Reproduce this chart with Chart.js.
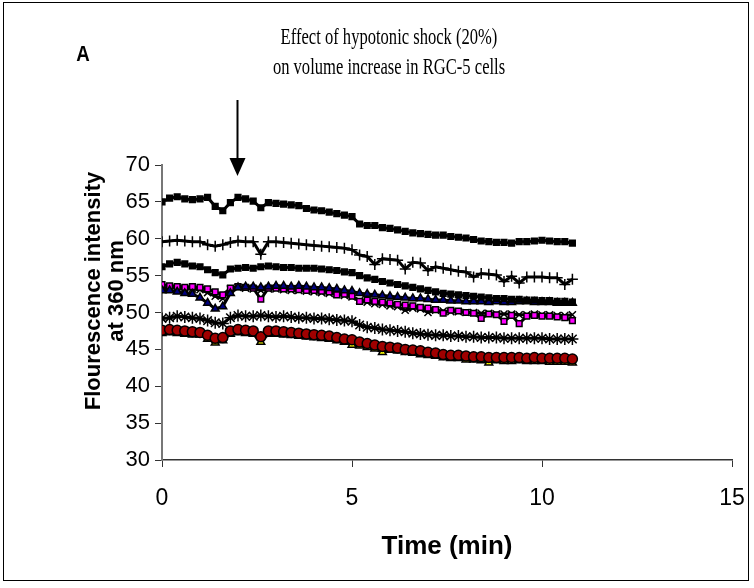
<!DOCTYPE html>
<html>
<head>
<meta charset="utf-8">
<script src="https://cdn.jsdelivr.net/npm/chart.js@4.4.1/dist/chart.umd.min.js"></script>
<style>
  html, body { margin: 0; padding: 0; background: #fff; }
  canvas { display: block; }
</style>
</head>
<body>
<canvas id="grafico" width="754" height="588"></canvas>
<script>
// tiempo en minutos
const tiempo = [0, 0.2, 0.4, 0.6, 0.8, 1, 1.2, 1.4, 1.6, 1.8,
  2, 2.2, 2.4, 2.6, 2.8, 3, 3.2, 3.4, 3.6, 3.8,
  4, 4.2, 4.4, 4.6, 4.8, 5, 5.2, 5.4, 5.6, 5.8,
  6, 6.2, 6.4, 6.6, 6.8, 7, 7.2, 7.4, 7.6, 7.8,
  8, 8.2, 8.4, 8.6, 8.8, 9, 9.2, 9.4, 9.6, 9.8,
  10, 10.2, 10.4, 10.6, 10.8];

const serie1 = [65.0, 65.5, 65.7, 65.4, 65.3, 65.4, 65.6, 64.4, 63.8, 64.9,
  65.6, 65.4, 65.1, 64.2, 64.9, 64.8, 64.7, 64.6, 64.5, 64.1,
  63.9, 63.8, 63.6, 63.4, 63.2, 63.0, 62.0, 61.8, 61.8, 61.5,
  61.4, 61.2, 61.0, 60.8, 60.7, 60.6, 60.5, 60.5, 60.3, 60.2,
  60.1, 59.9, 59.7, 59.6, 59.5, 59.5, 59.4, 59.6, 59.6, 59.7,
  59.8, 59.7, 59.6, 59.6, 59.4];
const serie2 = [59.6, 59.7, 59.8, 59.7, 59.6, 59.6, 59.2, 59.0, 59.2, 59.5,
  59.7, 59.6, 59.6, 57.9, 59.6, 59.6, 59.5, 59.4, 59.3, 59.2,
  59.1, 59.0, 58.9, 58.8, 58.7, 58.5, 57.8, 57.6, 56.5, 57.3,
  57.2, 57.1, 55.9, 56.8, 56.7, 55.7, 56.2, 56.0, 55.8, 55.6,
  55.5, 54.8, 55.3, 55.2, 55.1, 54.2, 54.9, 54.0, 54.8, 54.8,
  54.8, 54.7, 54.7, 53.8, 54.5];
const serie3 = [56.2, 56.6, 56.8, 56.6, 56.3, 56.2, 55.8, 55.4, 55.1, 55.9,
  56.0, 56.1, 56.0, 56.2, 56.3, 56.2, 56.1, 56.1, 56.0, 56.0,
  56.0, 55.9, 55.8, 55.7, 55.5, 55.4, 55.0, 54.7, 54.5, 54.2,
  54.0, 53.8, 53.6, 53.4, 53.2, 53.0, 52.8, 52.6, 52.5, 52.4,
  52.3, 52.2, 52.1, 52.0, 51.9, 51.9, 51.8, 51.8, 51.7, 51.7,
  51.6, 51.6, 51.5, 51.5, 51.4];
const serie4 = [53.0, 53.0, 52.8, 52.6, 52.5, 52.0, 51.3, 50.5, 50.8, 52.6,
  53.4, 53.5, 53.5, 53.4, 53.5, 53.6, 53.6, 53.5, 53.6, 53.5,
  53.4, 53.4, 53.3, 53.2, 53.0, 52.9, 52.6, 52.5, 52.4, 52.3,
  52.2, 52.1, 52.0, 51.9, 51.9, 51.8, 51.7, 51.7, 51.6, 51.6,
  51.5, 51.5, 51.5, 51.4, 51.5, 51.4, 51.4, 51.5, 51.5, 51.4,
  51.4, 51.4, 51.3, 51.3, 51.3];
const serie5 = [53.8, 53.6, 53.5, 53.4, 53.5, 53.4, 53.2, 52.8, 52.4, 53.3,
  53.5, 53.4, 53.3, 51.8, 53.3, 53.3, 53.2, 53.2, 53.1, 53.0,
  53.0, 52.9, 52.8, 52.4, 52.5, 52.2, 51.5, 51.7, 51.5, 51.4,
  51.3, 51.1, 51.0, 50.9, 50.7, 50.6, 50.4, 49.9, 50.3, 50.2,
  50.0, 49.9, 49.2, 49.8, 49.7, 48.8, 49.6, 48.5, 49.5, 49.6,
  49.5, 49.5, 49.4, 49.3, 48.9];
const serie6 = [53.3, 53.4, 53.3, 53.2, 53.2, 53.1, 52.7, 52.2, 51.9, 53.2,
  53.4, 53.3, 53.2, 53.0, 53.2, 53.2, 53.1, 53.0, 53.0, 52.9,
  52.8, 52.7, 52.6, 52.5, 52.3, 52.1, 51.6, 51.4, 51.2, 51.1,
  50.9, 50.8, 50.3, 50.6, 50.5, 50.0, 50.3, 50.2, 50.1, 50.1,
  50.0, 50.0, 49.9, 49.9, 49.8, 49.8, 49.8, 49.7, 49.7, 49.8,
  49.7, 49.7, 49.6, 49.6, 49.7];
const serie7 = [49.2, 49.3, 49.5, 49.4, 49.3, 49.2, 48.9, 48.6, 48.5, 49.3,
  49.6, 49.5, 49.5, 49.6, 49.5, 49.4, 49.5, 49.4, 49.3, 49.3,
  49.2, 49.2, 49.1, 49.0, 48.9, 48.8, 48.3, 48.0, 47.9, 47.7,
  47.6, 47.5, 47.4, 47.2, 47.1, 47.0, 46.9, 46.9, 46.8, 46.8,
  46.7, 46.7, 46.6, 46.6, 46.6, 46.5, 46.5, 46.5, 46.5, 46.5,
  46.5, 46.4, 46.4, 46.4, 46.4];
const serie8 = [47.6, 47.7, 47.6, 47.5, 47.4, 47.3, 46.9, 46.5, 46.6, 47.5,
  47.7, 47.6, 47.5, 46.7, 47.5, 47.5, 47.4, 47.3, 47.2, 47.1,
  47.0, 46.9, 46.8, 46.6, 46.4, 46.3, 46.0, 45.8, 45.6, 45.4,
  45.3, 45.2, 45.0, 44.9, 44.8, 44.6, 44.5, 44.3, 44.2, 44.2,
  44.1, 44.0, 44.0, 43.9, 43.9, 43.9, 43.9, 43.9, 43.8, 43.9,
  43.8, 43.8, 43.8, 43.8, 43.7];
const serie9 = [47.2, 47.3, 47.2, 47.1, 47.0, 47.0, 46.4, 45.9, 46.2, 47.1,
  47.3, 47.2, 47.1, 46.0, 47.1, 47.1, 47.0, 46.9, 46.8, 46.7,
  46.6, 46.5, 46.4, 46.2, 46.0, 45.6, 45.5, 45.3, 45.1, 44.6,
  44.9, 44.8, 44.6, 44.5, 44.3, 44.2, 44.1, 43.9, 43.8, 43.8,
  43.6, 43.6, 43.5, 43.2, 43.5, 43.4, 43.4, 43.5, 43.4, 43.4,
  43.4, 43.3, 43.3, 43.3, 43.2];

const ticksX = [0, 5, 10, 15];
const ticksY = [30, 35, 40, 45, 50, 55, 60, 65, 70];
const titulo = ["Effect of hypotonic shock (20%)", "on volume increase in RGC-5 cells"];
const letraPanel = "A";
const tituloX = "Time (min)";
const tituloY = ["Flourescence intensity", "at 360 nm"];
const tiempoShock = 2; // flecha

const estilos = [
  { valores: serie1, punto: "rect", relleno: "#000000", radio: 4 },
  { valores: serie2, punto: "cross", relleno: "#000000", radio: 5.5 },
  { valores: serie3, punto: "rect", relleno: "#000000", radio: 4 },
  { valores: serie4, punto: "triangle", relleno: "#000080", radio: 4.5 },
  { valores: serie5, punto: "rect", relleno: "#ff00ff", radio: 4 },
  { valores: serie6, punto: "crossRot", relleno: "#000000", radio: 5 },
  { valores: serie7, punto: "star", relleno: "#000000", radio: 6 },
  { valores: serie8, punto: "circle", relleno: "#a00000", radio: 5 },
  { valores: serie9, punto: "triangle", relleno: "#ffff00", radio: 4.5 }
];

const datasets = estilos.map(e => ({
  data: e.valores.map((v, i) => ({ x: tiempo[i], y: v })),
  showLine: true,
  borderColor: "#000",
  borderWidth: 3,
  pointStyle: e.punto,
  pointRadius: e.radio,
  pointBackgroundColor: e.relleno,
  pointBorderColor: "#000",
  pointBorderWidth: 1.5
}));

const decoraciones = {
  id: "decoraciones",
  beforeDraw(chart) {
    const ctx = chart.ctx;
    ctx.save();
    ctx.fillStyle = "#fff";
    ctx.fillRect(0, 0, chart.width, chart.height);
    ctx.strokeStyle = "#000";
    ctx.lineWidth = 1;
    ctx.strokeRect(3.5, 2.5, 745, 578);
    ctx.restore();
  },
  afterDraw(chart) {
    const ctx = chart.ctx;
    ctx.save();
    ctx.fillStyle = "#000";
    ctx.textAlign = "center";
    ctx.textBaseline = "middle";

    // titulo (letra estrecha como en la figura)
    ctx.save();
    ctx.translate(389, 0);
    ctx.scale(0.72, 1);
    ctx.font = "23px 'Liberation Serif', 'Times New Roman', serif";
    titulo.forEach((linea, i) => ctx.fillText(linea, 0, 38 + i * 30));
    ctx.restore();

    ctx.save();
    ctx.translate(83, 55);
    ctx.scale(0.85, 1);
    ctx.font = "bold 22px 'Liberation Sans', Arial, sans-serif";
    ctx.fillText(letraPanel, 0, 0);
    ctx.restore();

    // flecha del shock
    const xf = Math.round(chart.scales.x.getPixelForValue(tiempoShock)) - 0.5;
    ctx.strokeStyle = "#000";
    ctx.lineWidth = 2;
    ctx.beginPath();
    ctx.moveTo(xf, 100);
    ctx.lineTo(xf, 162);
    ctx.stroke();
    ctx.beginPath();
    ctx.moveTo(xf - 8, 158);
    ctx.lineTo(xf + 8, 158);
    ctx.lineTo(xf, 176);
    ctx.closePath();
    ctx.fill();

    // titulo eje y
    ctx.translate(105, 291);
    ctx.rotate(-Math.PI / 2);
    ctx.font = "bold 22px 'Liberation Sans', Arial, sans-serif";
    ctx.fillText(tituloY[0], 0, -11);
    ctx.fillText(tituloY[1], 0, 12);
    ctx.restore();
  }
};

const ctx = document.getElementById("grafico").getContext("2d");
new Chart(ctx, {
  type: "scatter",
  data: { datasets: datasets },
  options: {
    responsive: false,
    animation: false,
    layout: { padding: { top: 165, right: 22, left: 0, bottom: 0 } },
    plugins: { legend: { display: false }, tooltip: { enabled: false } },
    scales: {
      x: {
        type: "linear",
        min: 0,
        max: 15,
        afterFit: s => { s.height = 128; s.paddingLeft = 0; s.paddingRight = 0; },
        afterBuildTicks: s => { s.ticks = ticksX.map(v => ({ value: v })); },
        grid: { drawOnChartArea: false, drawTicks: true, tickLength: 7, color: "#333" },
        border: { color: "#333", width: 1.5 },
        ticks: { color: "#000", padding: 18, font: { family: "'Liberation Sans', Arial", size: 23 } },
        title: {
          display: true,
          text: tituloX,
          color: "#000",
          padding: { top: 0, bottom: 26 },
          font: { family: "'Liberation Sans', Arial", size: 26, weight: "bold" }
        }
      },
      y: {
        min: 30,
        max: 70,
        afterFit: s => { s.width = 162; },
        afterBuildTicks: s => { s.ticks = ticksY.map(v => ({ value: v })); },
        grid: { drawOnChartArea: false, drawTicks: true, tickLength: 7, color: "#333" },
        border: { color: "#777", width: 2 },
        ticks: { color: "#000", padding: 5, font: { family: "'Liberation Sans', Arial", size: 22 } }
      }
    }
  },
  plugins: [decoraciones]
});
</script>
</body>
</html>
